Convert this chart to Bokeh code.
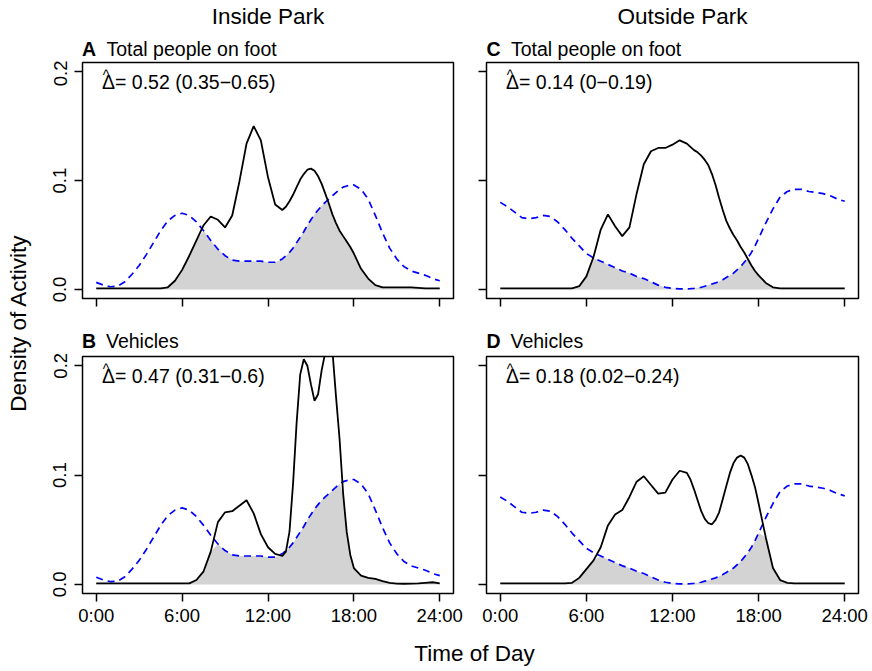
import math
import numpy as np
from bokeh.plotting import figure
from bokeh.layouts import row, column
from bokeh.models import Range1d, FixedTicker, PrintfTickFormatter, Label
from bokeh.embed import file_html
from bokeh.resources import INLINE

# ---------------- data ----------------
hours = [0, 0.5, 1, 1.5, 2, 2.5, 3, 3.5, 4, 4.5, 5, 5.5, 6, 6.5, 7, 7.5, 8, 8.5, 9, 9.5,
         10, 10.5, 11, 11.5, 12, 12.5, 13, 13.25, 13.5, 13.75, 14, 14.25, 14.5, 14.75,
         15, 15.25, 15.5, 15.75, 16, 16.25, 16.5, 16.75, 17, 17.25, 17.5, 17.75, 18,
         18.5, 19, 19.5, 20, 20.5, 21, 21.5, 22, 22.5, 23, 23.5, 24]

# dashed blue reference curve, inside park (panels A, B)
ref_inside = [0.0065, 0.004, 0.0025, 0.003, 0.007, 0.014, 0.022, 0.032, 0.043, 0.054,
              0.063, 0.068, 0.070, 0.068, 0.062, 0.054, 0.045, 0.037, 0.031, 0.027,
              0.026, 0.026, 0.026, 0.026, 0.025, 0.025, 0.028, 0.031, 0.034, 0.038,
              0.043, 0.048, 0.053, 0.059, 0.064, 0.069, 0.073, 0.077, 0.080, 0.083,
              0.086, 0.089, 0.092, 0.094, 0.095, 0.096, 0.096, 0.092, 0.083, 0.068,
              0.052, 0.038, 0.028, 0.021, 0.017, 0.015, 0.013, 0.010, 0.008]

# dashed blue reference curve, outside park (panels C, D)
ref_outside = [0.080, 0.076, 0.071, 0.066, 0.065, 0.066, 0.068, 0.067, 0.062, 0.055,
               0.047, 0.040, 0.033, 0.029, 0.026, 0.023, 0.020, 0.017, 0.015, 0.012,
               0.010, 0.007, 0.004, 0.002, 0.001, 0.0005, 0.0005, 0.0007, 0.001, 0.0015,
               0.002, 0.003, 0.004, 0.005, 0.006, 0.0075, 0.009, 0.011, 0.013, 0.015,
               0.018, 0.021, 0.025, 0.029, 0.034, 0.040, 0.047, 0.061, 0.074, 0.085,
               0.090, 0.092, 0.092, 0.090, 0.089, 0.088, 0.086, 0.083, 0.081]

# A: total people on foot, inside park
foot_inside = [0.001, 0.001, 0.001, 0.001, 0.001, 0.001, 0.001, 0.001, 0.001, 0.001,
               0.002, 0.008, 0.018, 0.031, 0.045, 0.059, 0.067, 0.064, 0.057, 0.068,
               0.099, 0.134, 0.150, 0.137, 0.103, 0.078, 0.073, 0.076, 0.081, 0.087,
               0.094, 0.101, 0.106, 0.110, 0.111, 0.109, 0.104, 0.097, 0.088, 0.079,
               0.069, 0.061, 0.054, 0.049, 0.044, 0.039, 0.033, 0.019, 0.010, 0.004,
               0.002, 0.002, 0.002, 0.002, 0.002, 0.0015, 0.001, 0.001, 0.001]

# B: vehicles, inside park
veh_inside = [0.001, 0.001, 0.001, 0.001, 0.001, 0.001, 0.001, 0.001, 0.001, 0.001,
              0.001, 0.001, 0.001, 0.001, 0.004, 0.012, 0.030, 0.057, 0.066, 0.067,
              0.072, 0.077, 0.065, 0.046, 0.034, 0.028, 0.026, 0.030, 0.048, 0.092,
              0.148, 0.192, 0.206, 0.200, 0.183, 0.168, 0.174, 0.196, 0.212, 0.225,
              0.214, 0.172, 0.133, 0.083, 0.048, 0.027, 0.015, 0.008, 0.006, 0.005,
              0.003, 0.0015, 0.0008, 0.0006, 0.0008, 0.001, 0.0015, 0.002, 0.001]

# C: total people on foot, outside park
foot_outside = [0.001, 0.001, 0.001, 0.001, 0.001, 0.001, 0.001, 0.001, 0.001, 0.001,
                0.001, 0.003, 0.012, 0.030, 0.055, 0.069, 0.058, 0.049, 0.057, 0.088,
                0.115, 0.127, 0.130, 0.130, 0.133, 0.137, 0.134, 0.131, 0.128, 0.126,
                0.123, 0.119, 0.114, 0.106, 0.096, 0.084, 0.073, 0.063, 0.056, 0.050,
                0.045, 0.039, 0.034, 0.028, 0.022, 0.017, 0.013, 0.006, 0.002, 0.001,
                0.001, 0.001, 0.001, 0.001, 0.001, 0.001, 0.001, 0.001, 0.001]

# D: vehicles, outside park
veh_outside = [0.001, 0.001, 0.001, 0.001, 0.001, 0.001, 0.001, 0.001, 0.001, 0.001,
               0.0015, 0.006, 0.014, 0.022, 0.034, 0.054, 0.064, 0.068, 0.080, 0.094,
               0.099, 0.091, 0.083, 0.084, 0.096, 0.104, 0.102, 0.096, 0.087, 0.077,
               0.067, 0.060, 0.056, 0.055, 0.059, 0.066, 0.078, 0.090, 0.102, 0.111,
               0.116, 0.118, 0.116, 0.110, 0.100, 0.089, 0.074, 0.043, 0.015, 0.004,
               0.0015, 0.001, 0.001, 0.001, 0.001, 0.001, 0.001, 0.001, 0.001]

xticks = [0, 6, 12, 18, 24]
xlabels = ["0:00", "6:00", "12:00", "18:00", "24:00"]
yticks = [0.0, 0.1, 0.2]

column_titles = ["Inside Park", "Outside Park"]
panel_letters = ["A", "B", "C", "D"]
panel_titles = ["Total people on foot", "Vehicles", "Total people on foot", "Vehicles"]
deltas = ["0.52 (0.35\u22120.65)", "0.47 (0.31\u22120.6)",
          "0.14 (0\u22120.19)", "0.18 (0.02\u22120.24)"]
ylabel = "Density of Activity"
xlabel = "Time of Day"

FONT = "Liberation Sans"
TICK_FS = "18.5px"
TEXT_FS = "19.5px"
BIG_FS = "22.5px"


def panel(solid, dashed, delta, xlab, ylab, width, height, mbl, mbr, mbt, mbb):
    p = figure(width=width, height=height, output_backend="svg", toolbar_location=None,
               x_range=Range1d(-0.96, 24.96), y_range=Range1d(-0.0083, 0.2085),
               min_border_left=mbl, min_border_right=mbr,
               min_border_top=mbt, min_border_bottom=mbb)
    p.grid.visible = False
    p.outline_line_color = "black"
    p.outline_line_width = 1.5
    p.background_fill_color = "white"
    p.border_fill_color = "white"

    x = np.array(hours)
    s = np.array(solid)
    d = np.array(dashed)
    p.varea(x=x, y1=np.zeros_like(x), y2=np.minimum(s, d), fill_color="#D3D3D3")
    p.line(x, d, line_color="#0000FF", line_width=1.7, line_dash="7 5")
    p.line(x, s, line_color="black", line_width=1.8)

    for ax in (p.xaxis[0], p.yaxis[0]):
        ax.axis_line_color = None
        ax.major_tick_in = 0
        ax.major_tick_out = 8
        ax.major_tick_line_width = 1.5
        ax.major_tick_line_color = "black"
        ax.minor_tick_line_color = None
        ax.major_label_text_font = FONT
        ax.major_label_text_color = "black"
        ax.major_label_text_font_size = TICK_FS

    p.xaxis.ticker = FixedTicker(ticks=xticks)
    p.xaxis.major_label_overrides = {t: l for t, l in zip(xticks, xlabels)}
    p.xaxis.major_label_standoff = 3
    p.yaxis.ticker = FixedTicker(ticks=yticks)
    p.yaxis.formatter = PrintfTickFormatter(format="%.1f")
    p.yaxis.major_label_orientation = "vertical"
    p.yaxis.major_label_standoff = 8
    if not xlab:
        p.xaxis.major_label_text_font_size = "0px"
        p.xaxis.major_label_text_color = None
    if not ylab:
        p.yaxis.major_label_text_font_size = "0px"
        p.yaxis.major_label_text_color = None

    fh = height - mbt - mbb
    p.add_layout(Label(x=19.5, y=fh - 19, x_units="screen", y_units="screen",
                       text="\u0394= " + delta, text_font=FONT, text_font_size=TEXT_FS,
                       text_color="black",
                       text_baseline="alphabetic", text_align="left"))
    p.add_layout(Label(x=23.5, y=fh - 12, x_units="screen", y_units="screen", text="^",
                       text_font=FONT, text_font_size="14px", text_color="black",
                       text_baseline="alphabetic", text_align="center"))
    return p


def text_strip(w, h):
    q = figure(width=w, height=h, output_backend="svg", toolbar_location=None,
               x_range=Range1d(0, w), y_range=Range1d(0, h),
               x_axis_type=None, y_axis_type=None,
               min_border_left=0, min_border_right=0, min_border_top=0, min_border_bottom=0)
    q.grid.visible = False
    q.outline_line_color = None
    q.background_fill_color = "white"
    q.border_fill_color = "white"
    return q


def add_text(q, x, y, text, size, bold=False, align="left", angle=0.0):
    q.add_layout(Label(x=x, y=y, text=text, text_font=FONT, text_font_size=size,
                       text_font_style="bold" if bold else "normal", angle=angle,
                       text_color="black", text_align=align, text_baseline="alphabetic"))


# columns: label strip 44 | col1 419 (38 + 371 + 10) | col2 405 (23 + 372 + 10)
# rows: header 60 | row1 252 (2 + 236 + 14) | header 40 | row2 278 (4 + 237 + 37) | 40
pA = panel(foot_inside, ref_inside, deltas[0], False, True, 419, 252, 38, 10, 2, 14)
pC = panel(foot_outside, ref_outside, deltas[2], False, False, 405, 252, 23, 10, 2, 14)
pB = panel(veh_inside, ref_inside, deltas[1], True, True, 419, 278, 38, 10, 4, 37)
pD = panel(veh_outside, ref_outside, deltas[3], True, False, 405, 278, 23, 10, 4, 37)

head1 = text_strip(824, 60)
add_text(head1, 223.5, 44, column_titles[0], BIG_FS, align="center")
add_text(head1, 638, 44, column_titles[1], BIG_FS, align="center")
add_text(head1, 37.5, 12, panel_letters[0], TEXT_FS, bold=True)
add_text(head1, 62, 12, panel_titles[0], TEXT_FS)
add_text(head1, 442, 12, panel_letters[2], TEXT_FS, bold=True)
add_text(head1, 466.5, 12, panel_titles[2], TEXT_FS)

head2 = text_strip(824, 40)
add_text(head2, 37.5, 12, panel_letters[1], TEXT_FS, bold=True)
add_text(head2, 61.5, 12, panel_titles[1], TEXT_FS)
add_text(head2, 442, 12, panel_letters[3], TEXT_FS, bold=True)
add_text(head2, 466, 12, panel_titles[3], TEXT_FS)

pY = text_strip(44, 630)
add_text(pY, 18, 307.5, ylabel, BIG_FS, align="center", angle=math.pi / 2)

pX = text_strip(868, 40)
add_text(pX, 474, 17.5, xlabel, BIG_FS, align="center")

grid = column(head1, row(pA, pC), head2, row(pB, pD))
layout = column(row(pY, grid), pX)

open("out.html", "w").write(file_html(layout, INLINE))
